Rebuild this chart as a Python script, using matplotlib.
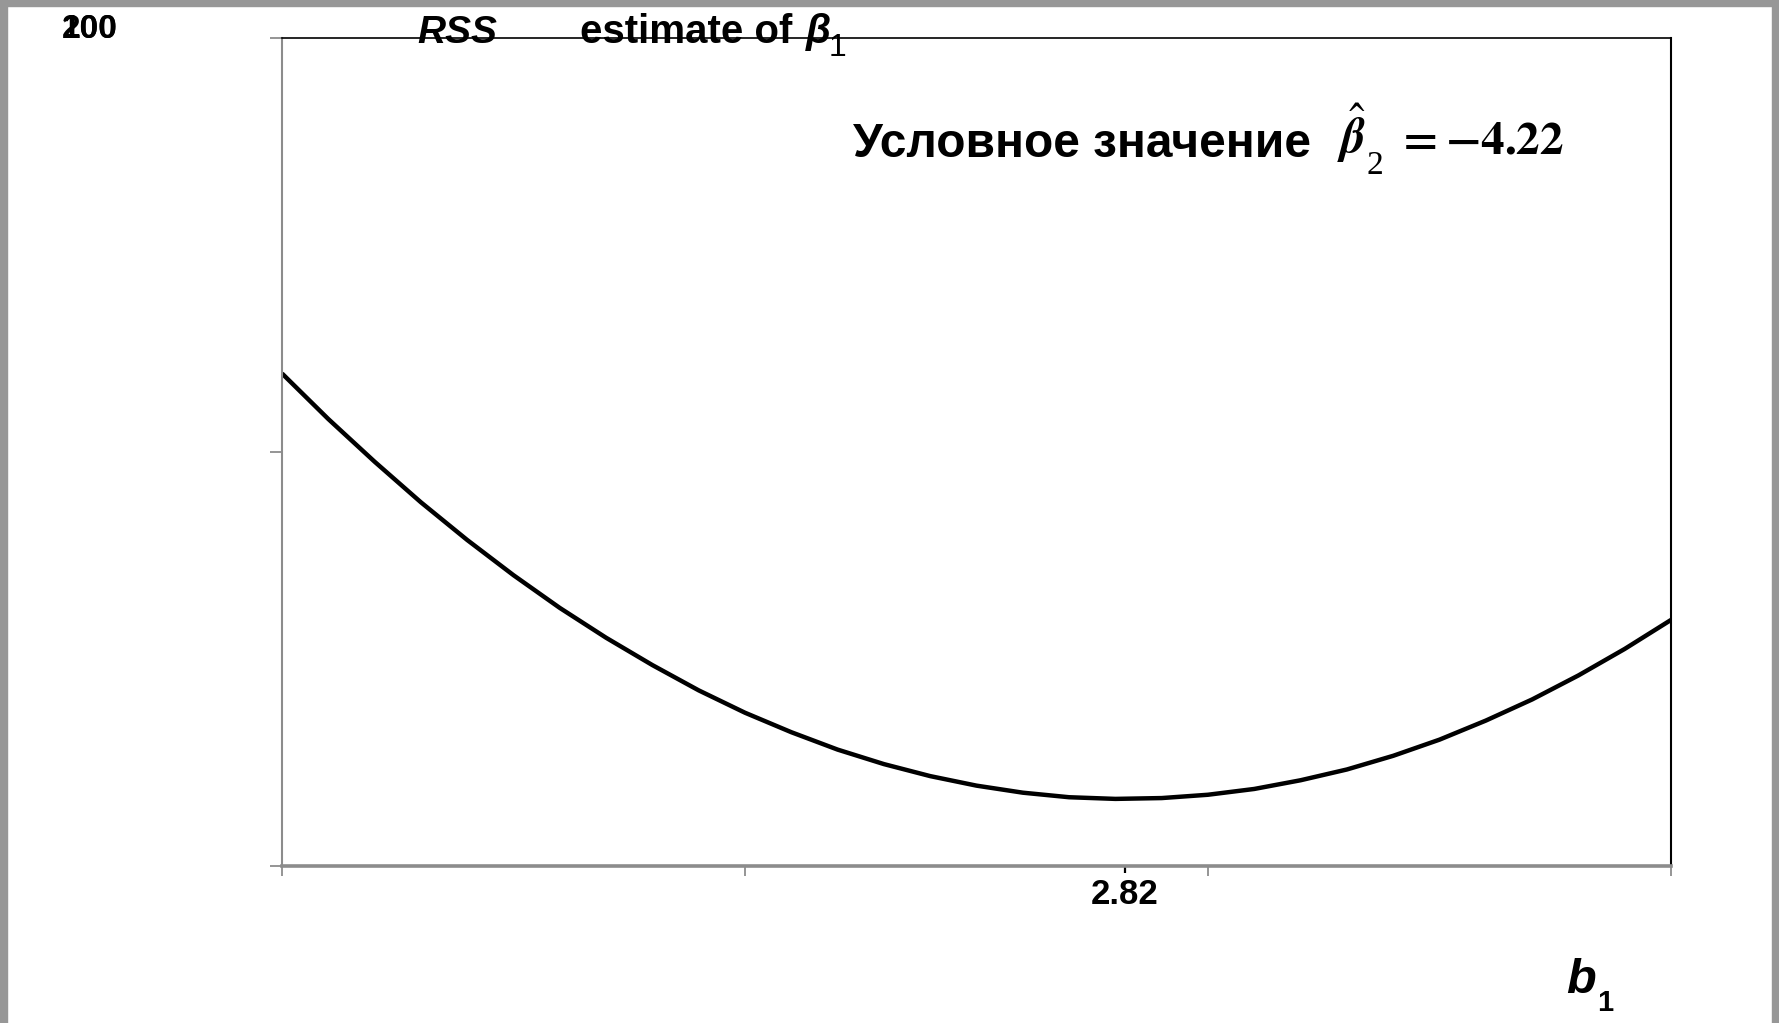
"""RSS как функция b1 при фиксированном b2"""
import matplotlib
matplotlib.use("Agg")
from matplotlib import pyplot as plt
from matplotlib.patches import Rectangle

W, H = 1779, 1023

b1 = [1.0, 1.1, 1.2, 1.3, 1.4, 1.5, 1.6, 1.7, 1.8, 1.9,
      2.0, 2.1, 2.2, 2.3, 2.4, 2.5, 2.6, 2.7, 2.8, 2.9,
      3.0, 3.1, 3.2, 3.3, 3.4, 3.5, 3.6, 3.7, 3.8, 3.9, 4.0]
rss = [118.9, 107.9, 97.6, 87.8, 78.7, 70.2, 62.3, 55.1, 48.5, 42.4,
       37.0, 32.3, 28.1, 24.6, 21.7, 19.4, 17.7, 16.6, 16.2, 16.4,
       17.2, 18.6, 20.7, 23.3, 26.6, 30.5, 35.1, 40.2, 46.0, 52.4, 59.4]

x_ticks = [1, 2, 3, 4]
y_ticks = [0, 100, 200]
y_labels = ["100", "200"]
b1_hat = 2.82
b1_hat_label = "2.82"
b2_hat_label = "-4.22"

plt.rcParams['font.family'] = ['Liberation Sans', 'DejaVu Sans']


def fx(x):
    return x / W


def fy(y):
    return 1 - y / H


fig = plt.figure(figsize=(W / 100, H / 100), dpi=100)
ax = fig.add_axes([fx(282), fy(866), (1671 - 282) / W, (866 - 37.5) / H])

ax.plot(b1, rss, color='black', lw=3.2, solid_capstyle='butt')

ax.set_xlim(1, 4)
ax.set_ylim(0, 200)
ax.set_xticks(x_ticks)
ax.set_xticklabels([])
ax.set_yticks(y_ticks)
ax.set_yticklabels([])
ax.tick_params(axis='x', color='#8c8c8c', width=1.3, length=7.5)
ax.tick_params(axis='y', color='#8c8c8c', width=1.3, length=8.5)

# отметка минимума
ax.set_xticks([b1_hat], minor=True)
ax.set_xticklabels([b1_hat_label], minor=True, fontsize=25, fontweight='bold')
ax.tick_params(axis='x', which='minor', color='black', width=1.6,
               length=5, direction='out', pad=4)

ax.spines['left'].set_color('#8c8c8c')
ax.spines['left'].set_linewidth(1.5)
ax.spines['bottom'].set_color('#8c8c8c')
ax.spines['bottom'].set_linewidth(2.6)
ax.spines['top'].set_color('black')
ax.spines['top'].set_linewidth(1.2)
ax.spines['right'].set_color('black')
ax.spines['right'].set_linewidth(1.5)

# подписи
for lab in y_labels:
    fig.text(fx(62), fy(38), lab, fontsize=24, fontweight='bold', va='baseline')

fig.text(fx(417), fy(43), "RSS", fontsize=28, fontweight='bold',
         fontstyle='italic', va='baseline')
fig.text(fx(580), fy(43), "estimate of", fontsize=29, fontweight='bold',
         va='baseline')
fig.text(fx(806), fy(43), "β", fontsize=29, fontweight='bold',
         fontstyle='italic', va='baseline')
fig.text(fx(829), fy(56), "1", fontsize=23, va='baseline')

fig.text(fx(853), fy(157), "Условное значение", fontsize=34.5,
         fontweight='bold', va='baseline')
fig.text(fx(1337), fy(153), r'$\hat{\mathbfit{\beta}}$',
         fontsize=35, math_fontfamily='stix', va='baseline')
fig.text(fx(1367), fy(174), "2", fontsize=24, family=['Liberation Serif'],
         va='baseline')
fig.text(fx(1396), fy(153), r'$\mathbf{=' + b2_hat_label + '}$',
         fontsize=34, math_fontfamily='stix', va='baseline')

fig.text(fx(1566), fy(993), "b", fontsize=35, fontweight='bold',
         fontstyle='italic', va='baseline')
fig.text(fx(1597), fy(1011), "1", fontsize=21, fontweight='bold',
         va='baseline')

# серая рамка слайда
gray = '#979797'
fig.patches.append(Rectangle((0, 0), fx(6.5), 1, transform=fig.transFigure,
                             color=gray, zorder=-1))
fig.patches.append(Rectangle((0, fy(6)), 1, 6 / H, transform=fig.transFigure,
                             color=gray, zorder=-1))
fig.patches.append(Rectangle((fx(W - 7), 0), 7 / W, 1,
                             transform=fig.transFigure, color=gray, zorder=-1))

plt.savefig("out.png", dpi=100)
